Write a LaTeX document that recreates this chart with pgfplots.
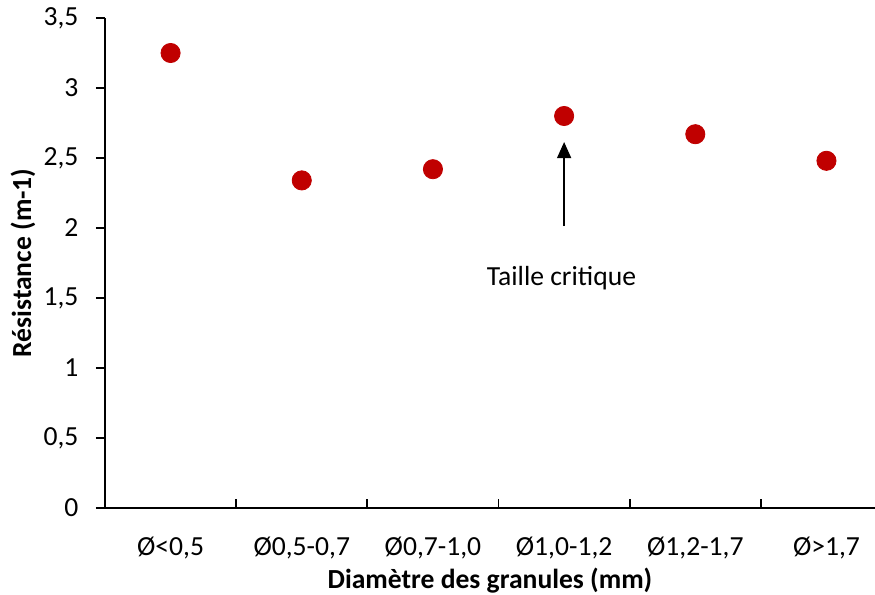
\documentclass[border=0pt]{standalone}
\usepackage{pgfplots}
\pgfplotsset{compat=1.18}
\usepackage{fontspec}
\setmainfont{Carlito}
\usetikzlibrary{calc,arrows.meta}
\definecolor{dotred}{HTML}{C00000}
\newcommand{\fs}{\fontsize{13.8pt}{16pt}\selectfont}
\begin{document}
\fs
\begin{tikzpicture}
\begin{axis}[
  name=ax,
  scale only axis,
  width=385pt, height=245pt,
  xmin=-0.5, xmax=5.37,
  ymin=0, ymax=3.5,
  axis x line*=bottom,
  axis y line*=left,
  axis line style={black, line width=1pt},
  every tick/.style={black, line width=0.9pt},
  ytick={0,0.5,...,3.5},
  yticklabel style={/pgf/number format/use comma, /pgf/number format/assume math mode=true, font=\fs, xshift=-4pt},
  tick align=outside,
  major tick length=4.5pt,
  xtick={0,1,2,3,4,5},
  xticklabels={{Ø<0,5}, {Ø0,5-0,7}, {Ø0,7-1,0}, {Ø1,0-1,2}, {Ø1,2-1,7}, {Ø>1,7}},
  xticklabel style={font=\fs, yshift=-5pt},
  xtick style={draw=none},
  extra x ticks={0.5,1.5,2.5,3.5,4.5},
  extra x tick labels={},
  extra x tick style={xtick style={draw=black, line width=0.9pt}, tick align=inside},
  xlabel={\textbf{Diamètre des granules (mm)}},
  ylabel={\textbf{Résistance (m-1)}},
  xlabel style={font=\fs, at={(axis description cs:0.5,0)}, anchor=north, yshift=-25pt},
  ylabel style={font=\fs, at={(axis description cs:0,0.5)}, anchor=south, yshift=30pt},
  clip=false,
]
\addplot[only marks, mark=*, mark size=4.8pt, mark options={fill=dotred, draw=dotred}] coordinates {
  (0,3.25) (1,2.34) (2,2.42) (3,2.80) (4,2.67) (5,2.48)
};
\draw[-{Triangle[length=8pt,width=7pt]}, line width=0.7pt] (axis cs:3,2.014) -- (axis cs:3,2.614);
\node[font=\fs] at (axis cs:2.98,1.643) {Taille critique};
\end{axis}
\pgfresetboundingbox
\path ($(ax.south west)+(-52.5pt,-43.5pt)$) rectangle ($(ax.north east)+(0pt,9pt)$);
\end{tikzpicture}
\end{document}
